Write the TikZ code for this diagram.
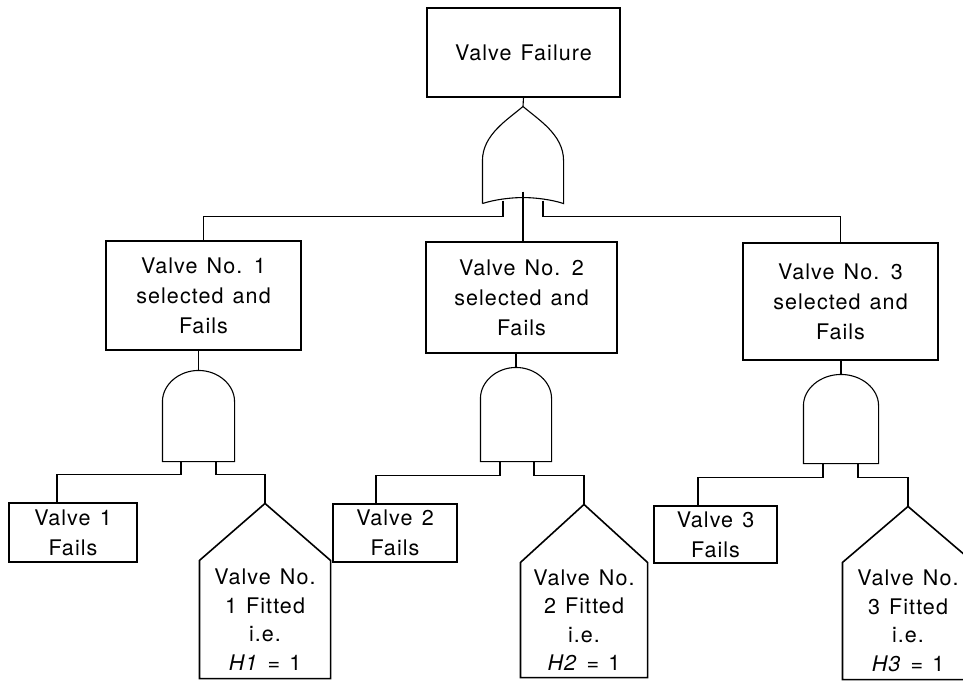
\documentclass[tikz,border=0pt]{standalone}
\usepackage{fontspec}
\setmainfont{TeX Gyre Heros}[LetterSpace=5,WordSpace=1.3]
\usepackage{tikz}

\tikzset{
  event/.style={rectangle, draw, align=center, inner sep=0pt, font=\fontsize{21.5}{30}\selectfont},
  gatebox/.style={rectangle, inner sep=0pt},
  housebox/.style={rectangle, align=center, inner sep=0pt, font=\fontsize{21.5}{28.5}\selectfont},
  heavy/.style={line width=1.6pt}
}

\begin{document}
\begin{tikzpicture}[x=1pt, y=1pt, line width=1.1pt]
    \useasboundingbox (0,0) rectangle (963,681);

    % top event and OR gate
    \node[event, minimum width=193pt, minimum height=89pt] (top) at (523.5,628.5) {Valve Failure};
    \node[gatebox, minimum width=80pt, minimum height=96pt] (or1) at (523,526) {};
    \draw (or1.south west) -- ++(0,43)
        .. controls +(0,26) and +(-15,-13) .. (or1.north)
        .. controls +(15,-13) and +(0,26) .. ([yshift=43pt]or1.south east)
        -- (or1.south east)
        .. controls +(-12,4) and +(12,0) .. ([yshift=6pt]or1.south)
        .. controls +(-12,0) and +(12,4) .. (or1.south west);

    % intermediate events
    \node[event, minimum width=195pt, minimum height=109pt] (sel1) at (203.5,385.5) {Valve No. 1\\selected and\\Fails};
    \node[event, minimum width=191pt, minimum height=111pt] (sel2) at (521.5,383.5) {Valve No. 2\\selected and\\Fails};
    \node[event, minimum width=195pt, minimum height=117pt] (sel3) at (840.5,379.5) {Valve No. 3\\selected and\\Fails};

    \draw (top.south) -- (or1.north);
    \draw ([shift={(-20pt,3pt)}]or1.south) -- ++(0,-16) -| (sel1.north);
    \draw ([shift={(20pt,3pt)}]or1.south) -- ++(0,-16) -| (sel3.north);
    \draw ([yshift=12pt]or1.south) -- (or1.south |- sel2.north);

    % AND gates
    \node[gatebox, minimum width=71pt, minimum height=90pt] (and1) at (198.5,265) {};
    \node[gatebox, minimum width=70pt, minimum height=93pt] (and2) at (516,266.5) {};
    \node[gatebox, minimum width=74pt, minimum height=88pt] (and3) at (841,262) {};
    \draw (and1.south west) -- ++(0,60)
        .. controls +(0,17) and +(-19.5,0) .. (and1.north)
        .. controls +(19.5,0) and +(0,17) .. ([yshift=60pt]and1.south east)
        -- (and1.south east) -- cycle;
    \draw (and2.south west) -- ++(0,63)
        .. controls +(0,17) and +(-19.3,0) .. (and2.north)
        .. controls +(19.3,0) and +(0,17) .. ([yshift=63pt]and2.south east)
        -- (and2.south east) -- cycle;
    \draw (and3.south west) -- ++(0,58)
        .. controls +(0,17) and +(-20.4,0) .. (and3.north)
        .. controls +(20.4,0) and +(0,17) .. ([yshift=58pt]and3.south east)
        -- (and3.south east) -- cycle;

    \draw (and1.north |- sel1.south) -- (and1.north);
    \draw (and2.north |- sel2.south) -- (and2.north);
    \draw (and3.north |- sel3.south) -- (and3.north);

    % basic events
    \node[event, minimum width=128pt, minimum height=59pt] (bas1) at (73,148.5) {Valve 1\\Fails};
    \node[event, minimum width=124pt, minimum height=58pt] (bas2) at (395,148) {Valve 2\\Fails};
    \node[event, minimum width=123pt, minimum height=57pt] (bas3) at (715.5,146.5) {Valve 3\\Fails};

    % house events
    \node[housebox, minimum width=130pt, minimum height=117pt] (hou1) at (265,61.5) {Valve No.\\1 Fitted\\i.e.\\\textit{H1} = 1};
    \node[housebox, minimum width=126pt, minimum height=114pt] (hou2) at (584,61) {Valve No.\\2 Fitted\\i.e.\\\textit{H2} = 1};
    \node[housebox, minimum width=130pt, minimum height=116pt] (hou3) at (908,60) {Valve No.\\3 Fitted\\i.e.\\\textit{H3} = 1};
    \coordinate (hou1top) at ([yshift=57pt]hou1.north);
    \coordinate (hou2top) at ([yshift=58pt]hou2.north);
    \coordinate (hou3top) at ([yshift=56pt]hou3.north);
    \draw[heavy] (hou1.south west) -- (hou1.north west) -- (hou1top) -- (hou1.north east) -- (hou1.south east) -- cycle;
    \draw[heavy] (hou2.south west) -- (hou2.north west) -- (hou2top) -- (hou2.north east) -- (hou2.south east) -- cycle;
    \draw[heavy] (hou3.south west) -- (hou3.north west) -- (hou3top) -- (hou3.north east) -- (hou3.south east) -- cycle;

    \draw ([xshift=-17.5pt]and1.south) -- ++(0,-13) -| ([xshift=-16pt]bas1.north);
    \draw[heavy] ([xshift=17.5pt]and1.south) -- ++(0,-13) -| (hou1top);
    \draw ([xshift=-16pt]and2.south) -- ++(0,-14) -| ([xshift=-19pt]bas2.north);
    \draw[heavy] ([xshift=18pt]and2.south) -- ++(0,-14) -| (hou2top);
    \draw ([xshift=-18pt]and3.south) -- ++(0,-14) -| ([xshift=-17.5pt]bas3.north);
    \draw[heavy] ([xshift=17pt]and3.south) -- ++(0,-14) -| (hou3top);
\end{tikzpicture}
\end{document}
